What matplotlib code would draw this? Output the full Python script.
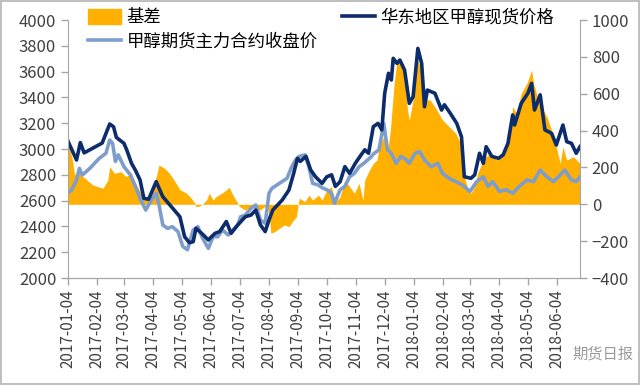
import numpy as np
import pandas as pd
import matplotlib
matplotlib.use("Agg")
import matplotlib.pyplot as plt
import matplotlib.dates as mdates
from matplotlib.patches import Patch
from matplotlib.lines import Line2D

plt.rcParams['font.family'] = ['Noto Sans CJK SC', 'DejaVu Sans']

# 华东地区甲醇现货价格 (左轴)
spot_dates = [
    '2017-01-04', '2017-01-13', '2017-01-17', '2017-01-21', '2017-01-31', '2017-02-09',
    '2017-02-17', '2017-02-21', '2017-02-24', '2017-03-04', '2017-03-07', '2017-03-12',
    '2017-03-16', '2017-03-21', '2017-03-25', '2017-03-30', '2017-04-07', '2017-04-14',
    '2017-04-23', '2017-05-02', '2017-05-07', '2017-05-12', '2017-05-16', '2017-05-19',
    '2017-05-25', '2017-06-01', '2017-06-08', '2017-06-13', '2017-06-20', '2017-06-25',
    '2017-07-02', '2017-07-10', '2017-07-16', '2017-07-21', '2017-07-26', '2017-07-31',
    '2017-08-04', '2017-08-08', '2017-08-18', '2017-08-25', '2017-08-30', '2017-09-03',
    '2017-09-06', '2017-09-12', '2017-09-17', '2017-09-22', '2017-09-29', '2017-10-04',
    '2017-10-09', '2017-10-13', '2017-10-18', '2017-10-23', '2017-10-28', '2017-11-03',
    '2017-11-08', '2017-11-13', '2017-11-17', '2017-11-22', '2017-11-27', '2017-12-01',
    '2017-12-04', '2017-12-08', '2017-12-11', '2017-12-13', '2017-12-17', '2017-12-20',
    '2017-12-25', '2017-12-30', '2018-01-03', '2018-01-08', '2018-01-12', '2018-01-15',
    '2018-01-18', '2018-01-26', '2018-02-02', '2018-02-05', '2018-02-11', '2018-02-18',
    '2018-02-23', '2018-02-26', '2018-03-05', '2018-03-09', '2018-03-14', '2018-03-18',
    '2018-03-21', '2018-03-27', '2018-04-03', '2018-04-08', '2018-04-13', '2018-04-18',
    '2018-04-20', '2018-04-27', '2018-05-04', '2018-05-08', '2018-05-11', '2018-05-17',
    '2018-05-22', '2018-05-29', '2018-06-03', '2018-06-10', '2018-06-14', '2018-06-19',
    '2018-06-24', '2018-06-28']
spot = [
    3060, 2915, 3050, 2970, 3010, 3046,
    3194, 3173, 3090, 3044, 2992, 2889,
    2837, 2760, 2618, 2610, 2747, 2630,
    2553, 2475, 2320, 2274, 2281, 2385,
    2346, 2295, 2346, 2360, 2438, 2346,
    2411, 2475, 2488, 2527, 2411, 2360,
    2450, 2527, 2605, 2682, 2811, 2928,
    2904, 2943, 2837, 2785, 2734, 2785,
    2800, 2710, 2747, 2863, 2811, 2889,
    2943, 2994, 2967, 3173, 3199, 3148,
    3432, 3587, 3535, 3703, 3664, 3690,
    3612, 3354, 3406, 3780, 3664, 3328,
    3457, 3432, 3302, 3343, 3279, 3199,
    3095, 2785, 2773, 2800, 2967, 2889,
    3018, 2943, 2928, 2955, 3044, 3264,
    3186, 3354, 3432, 3509, 3302, 3420,
    3148, 3122, 3031, 3186, 3057, 3044,
    2967, 3018]

# 甲醇期货主力合约收盘价 (左轴)
fut_dates = [
    '2017-01-04', '2017-01-08', '2017-01-13', '2017-01-16', '2017-01-19', '2017-01-27',
    '2017-02-06', '2017-02-13', '2017-02-17', '2017-02-20', '2017-02-23', '2017-02-26',
    '2017-03-04', '2017-03-11', '2017-03-17', '2017-03-21', '2017-03-27', '2017-04-02',
    '2017-04-07', '2017-04-10', '2017-04-14', '2017-04-19', '2017-04-24', '2017-04-30',
    '2017-05-05', '2017-05-10', '2017-05-16', '2017-05-21', '2017-05-26', '2017-06-01',
    '2017-06-06', '2017-06-11', '2017-06-16', '2017-06-22', '2017-06-27', '2017-07-02',
    '2017-07-05', '2017-07-10', '2017-07-16', '2017-07-21', '2017-07-26', '2017-07-31',
    '2017-08-04', '2017-08-07', '2017-08-15', '2017-08-23', '2017-08-28', '2017-09-01',
    '2017-09-05', '2017-09-11', '2017-09-15', '2017-09-19', '2017-09-25', '2017-09-29',
    '2017-10-04', '2017-10-09', '2017-10-12', '2017-10-18', '2017-10-23', '2017-10-28',
    '2017-11-02', '2017-11-07', '2017-11-12', '2017-11-18', '2017-11-23', '2017-11-28',
    '2017-12-03', '2017-12-07', '2017-12-11', '2017-12-16', '2017-12-21', '2017-12-27',
    '2017-12-30', '2018-01-05', '2018-01-10', '2018-01-15', '2018-01-22', '2018-01-29',
    '2018-02-03', '2018-02-10', '2018-02-17', '2018-02-24', '2018-03-04', '2018-03-11',
    '2018-03-18', '2018-03-23', '2018-03-28', '2018-04-04', '2018-04-11', '2018-04-18',
    '2018-04-25', '2018-05-03', '2018-05-10', '2018-05-17', '2018-05-24', '2018-05-31',
    '2018-06-07', '2018-06-12', '2018-06-19', '2018-06-24', '2018-06-28']
fut = [
    2660, 2684, 2760, 2850, 2798, 2850,
    2928, 2967, 3070, 3044, 2904, 2955,
    2863, 2798, 2695, 2618, 2527, 2605,
    2657, 2566, 2411, 2385, 2398, 2360,
    2245, 2219, 2372, 2398, 2308, 2230,
    2320, 2320, 2372, 2333, 2372, 2411,
    2475, 2488, 2540, 2566, 2450, 2424,
    2657, 2695, 2734, 2773, 2863, 2915,
    2943, 2955, 2863, 2734, 2721, 2700,
    2684, 2657, 2579, 2684, 2710, 2785,
    2811, 2863, 2889, 2928, 2967, 2994,
    3199, 2994, 2967, 2889, 2943, 2915,
    2889, 2967, 2980, 2915, 2863, 2889,
    2811, 2773, 2747, 2721, 2671, 2747,
    2785, 2710, 2747, 2671, 2684, 2657,
    2710, 2760, 2747, 2837, 2785, 2747,
    2798, 2837, 2760, 2747, 2785]

# 基差 (右轴)
basis_dates = [
    '2017-01-04', '2017-01-06', '2017-01-08', '2017-01-11', '2017-01-13', '2017-01-20',
    '2017-01-30', '2017-02-10', '2017-02-15', '2017-02-17', '2017-02-22', '2017-03-01',
    '2017-03-06', '2017-03-11', '2017-03-15', '2017-03-20', '2017-03-25', '2017-03-31',
    '2017-04-07', '2017-04-10', '2017-04-16', '2017-04-21', '2017-04-26', '2017-05-02',
    '2017-05-09', '2017-05-14', '2017-05-18', '2017-05-19', '2017-05-23', '2017-05-26',
    '2017-05-30', '2017-06-02', '2017-06-06', '2017-06-09', '2017-06-15', '2017-06-20',
    '2017-06-23', '2017-06-27', '2017-07-02', '2017-07-04', '2017-07-10', '2017-07-16',
    '2017-07-21', '2017-07-26', '2017-07-30', '2017-08-03', '2017-08-05', '2017-08-06',
    '2017-08-10', '2017-08-15', '2017-08-20', '2017-08-25', '2017-08-30', '2017-09-02',
    '2017-09-04', '2017-09-05', '2017-09-11', '2017-09-15', '2017-09-19', '2017-09-25',
    '2017-09-29', '2017-10-04', '2017-10-09', '2017-10-12', '2017-10-18', '2017-10-23',
    '2017-10-28', '2017-11-02', '2017-11-07', '2017-11-11', '2017-11-13', '2017-11-18',
    '2017-11-22', '2017-11-26', '2017-11-28', '2017-12-03', '2017-12-07', '2017-12-10',
    '2017-12-12', '2017-12-14', '2017-12-17', '2017-12-20', '2017-12-24', '2017-12-28',
    '2017-12-30', '2018-01-03', '2018-01-08', '2018-01-12', '2018-01-15', '2018-01-21',
    '2018-01-28', '2018-02-03', '2018-02-10', '2018-02-17', '2018-02-22', '2018-02-26',
    '2018-03-02', '2018-03-05', '2018-03-09', '2018-03-12', '2018-03-18', '2018-03-21',
    '2018-03-25', '2018-04-01', '2018-04-08', '2018-04-15', '2018-04-18', '2018-04-22',
    '2018-04-27', '2018-05-03', '2018-05-08', '2018-05-10', '2018-05-13', '2018-05-18',
    '2018-05-24', '2018-05-29', '2018-06-03', '2018-06-07', '2018-06-10', '2018-06-14',
    '2018-06-21', '2018-06-28']
basis = [
    394, 295, 258, 159, 170, 150,
    105, 87, 132, 204, 168, 177,
    150, 168, 123, 78, 33, 23,
    150, 213, 195, 168, 130, 80,
    60, 33, 5, -13, -9, 2,
    23, 60, 23, 41, 60, 78,
    92, 50, 5, -13, -31, -13,
    -22, -31, -13, -20, -103, -157,
    -149, -130, -112, -121, -85, -67,
    10, 33, 14, 50, 23, 50,
    23, 78, 96, 5, 41, 132,
    96, 60, 114, 23, 132, 186,
    222, 240, 312, 367, 277, 403,
    530, 657, 783, 756, 765, 512,
    457, 566, 783, 711, 566, 566,
    512, 457, 421, 385, 331, 150,
    78, 60, 96, 168, 240, 258,
    277, 240, 277, 385, 530, 494,
    602, 657, 729, 657, 602, 530,
    475, 403, 312, 222, 312, 240,
    258, 222]

tick_dates = ['2017-%02d-04' % m for m in range(1, 13)] + ['2018-%02d-04' % m for m in range(1, 7)]

orange = '#FFB000'
navy = '#0D2C6C'
lightblue = '#7F9DCB'
grey = '#A6A6A6'

fig = plt.figure(figsize=(6.4, 3.85), dpi=100, linewidth=1.5, edgecolor='#BFBFBF')
ax1 = fig.add_axes([0.10625, 0.2779, 0.8, 0.6701])
ax2 = ax1.twinx()
ax1.set_zorder(ax2.get_zorder() + 1)
ax1.patch.set_visible(False)

ax2.fill_between(pd.to_datetime(basis_dates), 0, basis, color=orange, lw=0)
ax1.plot(pd.to_datetime(fut_dates), fut, color=lightblue, lw=2.6)
ax1.plot(pd.to_datetime(spot_dates), spot, color=navy, lw=2.6)

ax1.set_xlim(pd.Timestamp('2017-01-04'), pd.Timestamp('2018-06-28'))
ax1.set_ylim(2000, 4000)
ax1.set_yticks(np.arange(2000, 4001, 200))
ax2.set_ylim(-400, 1000)
ax2.set_yticks(np.arange(-400, 1001, 200))

ax1.set_xticks(pd.to_datetime(tick_dates))
ax1.xaxis.set_major_formatter(mdates.DateFormatter('%Y-%m-%d'))
for lab in ax1.get_xticklabels():
    lab.set_rotation(90)

for ax in (ax1, ax2):
    ax.spines['top'].set_visible(False)
    for s in ('left', 'right', 'bottom'):
        ax.spines[s].set_color(grey)
    ax.tick_params(colors=grey, labelcolor='#404040', labelsize=12, length=5, width=1)
ax2.spines['left'].set_visible(False)
ax1.spines['right'].set_visible(False)
ax1.tick_params(axis='x', labelsize=11, pad=3)

handles = [Patch(color=orange), Line2D([], [], color=lightblue, lw=2.6), Line2D([], [], color=navy, lw=2.6)]
labels = ['基差', '甲醇期货主力合约收盘价', '华东地区甲醇现货价格']
fig.legend(handles, labels, ncol=2, loc='upper left', bbox_to_anchor=(0.122, 1.005),
           frameon=False, fontsize=12.5, handlelength=1.9, handleheight=0.9,
           columnspacing=1.4, labelspacing=0.35, handletextpad=0.3, borderaxespad=0.2)

fig.text(0.99, 0.08, '期货日报', ha='right', va='center', fontsize=11, color='#9A9A9A')

fig.savefig('out.png', dpi=100)
